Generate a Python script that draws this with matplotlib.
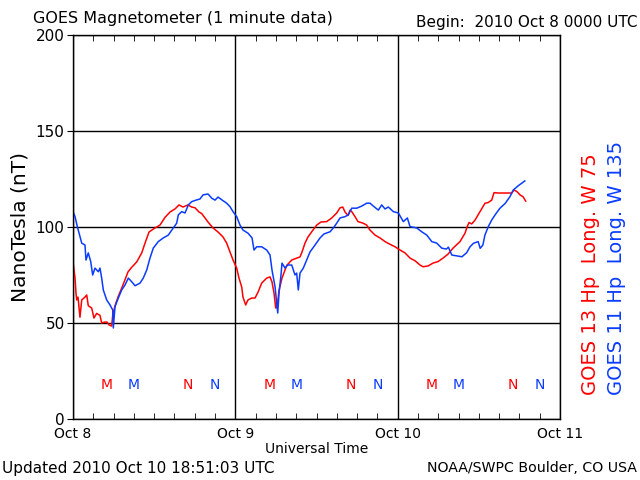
import numpy as np
import matplotlib
matplotlib.use("Agg")
import matplotlib.pyplot as plt

# hours since 2010 Oct 8 0000 UTC, field in nT
g13_hours = [0.0, 0.3, 0.44, 0.55, 0.74, 1.03, 1.29, 1.77, 2.03, 2.26, 2.76, 3.1, 3.5, 3.99,
             4.24, 4.73, 5.03, 5.32, 5.72, 5.87, 6.21, 6.65, 7.39, 8.13, 8.68, 9.42, 10.16,
             10.65, 11.24, 12.12, 12.86, 13.6, 14.34, 15.08, 15.67, 16.26, 17.0, 17.55, 18.04,
             18.63, 19.03, 19.96, 20.7, 21.44, 22.18, 22.72, 23.21, 23.66, 24.2, 24.54, 24.94,
             25.13, 25.53, 25.87, 26.42, 26.91, 27.35, 27.9, 28.64, 29.13, 29.42, 29.72, 29.97,
             30.16, 30.46, 30.9, 31.6, 32.34, 33.07, 33.56, 33.86, 34.3, 34.74, 35.48, 36.03,
             36.67, 37.51, 38.25, 38.99, 39.48, 39.88, 40.22, 40.66, 40.96, 41.21, 41.69, 42.14,
             42.88, 43.42, 43.91, 44.65, 45.39, 46.13, 46.87, 47.61, 48.35, 49.09, 49.83, 50.57,
             51.3, 51.75, 52.49, 53.23, 53.97, 54.71, 55.45, 56.19, 57.22, 57.96, 58.26, 58.55,
             58.95, 59.44, 60.17, 60.91, 61.36, 61.9, 62.25, 62.84, 63.58, 64.32, 64.86, 65.2,
             65.65, 66.09, 66.53, 66.93]
g13_nt = [81.8, 73.4, 65.6, 62, 63.5, 53, 62, 63.5, 64.6, 59, 57.8, 52.6, 55, 54,
          50, 50.5, 50.5, 49, 48.4, 54, 59, 63.5, 69.8, 76.6, 79, 81.8, 86.5,
          91.6, 97.4, 99.5, 101, 105, 107.8, 109.4, 111.5, 110.4, 111.5, 110.4, 110,
          107.8, 107, 102.6, 99.5, 97.4, 94.8, 91.6, 87, 82.8, 78.6, 73.4, 68.8,
          63.5, 59.4, 62, 63, 63, 66, 70.8, 73.4, 74, 71.4, 65.6, 57.8,
          58, 67, 73.4, 80, 82.8, 83.8, 84.4, 87, 91.6, 94.8, 98.4, 101,
          102.6, 102.8, 104.7, 107.3, 110, 110.4, 107.8, 106, 108.8, 108, 105.4, 102.8,
          102, 101, 98.4, 95.8, 94.3, 92.4, 91, 89.7, 88, 86.5, 83.8, 82.4,
          80.2, 79.3, 79.7, 81.2, 82, 83.8, 85.9, 89, 92.4, 96.8, 100, 102.3,
          101.6, 103.6, 108, 112.4, 112.7, 114, 117.9, 117.7, 117.7, 117.7, 117.7, 119.3,
          118.4, 116.7, 115.8, 113.5]

g11_hours = [0.0, 0.3, 0.64, 1.03, 1.29, 1.77, 1.92, 2.26, 2.62, 2.91, 3.25, 3.74, 3.99, 4.24,
             4.48, 4.98, 5.47, 5.87, 5.96, 6.21, 6.7, 7.2, 7.69, 8.18, 8.68, 9.17, 9.91, 10.39,
             10.9, 11.38, 11.87, 12.61, 13.35, 14.09, 14.83, 15.33, 15.57, 16.07, 16.56, 17.05,
             17.55, 18.19, 18.78, 19.22, 19.96, 20.51, 21.0, 21.44, 22.18, 22.72, 23.21, 23.66,
             24.2, 24.69, 25.13, 25.87, 26.47, 26.76, 27.16, 27.9, 28.64, 29.13, 29.42, 29.87,
             30.12, 30.27, 30.46, 30.75, 30.9, 31.35, 31.74, 32.34, 32.82, 33.07, 33.31, 33.56,
             34.05, 34.55, 35.04, 35.78, 36.52, 37.11, 38.0, 38.49, 38.99, 39.48, 40.22, 40.7,
             41.21, 41.95, 42.69, 43.42, 43.91, 44.4, 45.14, 45.64, 46.13, 46.62, 47.36, 48.1,
             48.84, 49.43, 49.83, 50.82, 51.56, 52.3, 53.04, 53.78, 54.51, 55.2, 55.5, 56.0,
             56.7, 57.5, 58.2, 58.7, 59.2, 59.9, 60.2, 60.6, 60.9, 61.4, 61.9, 62.4, 63.1,
             63.9, 64.6, 65.1, 65.8, 66.3, 66.8]
g11_nt = [108, 105.4, 100.2, 95, 91.6, 90.6, 82.8, 86.5, 82, 75, 78.6, 76.7, 78.6, 73.4,
          67.2, 62, 59.4, 56.8, 47.4, 58.5, 63, 67.2, 69.8, 73.4, 71.5, 69.4, 70.8, 73.4,
          77.6, 83.8, 89, 92.4, 94.3, 95.8, 99.5, 102, 106.3, 108, 107.3, 111.5,
          113.2, 114, 114.6, 116.7, 117.2, 115, 114, 115.6, 113.7, 112.4, 110.6, 108,
          105.4, 101, 98.4, 96.8, 94.3, 88, 89.7, 89.7, 88, 85.4, 77.6, 68.9,
          60.4, 55.2, 65.6, 75, 81.2, 78.6, 80.2, 80.2, 75, 76, 67.2, 76,
          78.6, 82.8, 87, 90.6, 94.3, 96.4, 97.5, 99.5, 102, 104.7, 105.4, 106.3,
          109.8, 109.8, 110.9, 112.4, 112.4, 110.9, 108.8, 111.5, 109.4, 110.4, 108, 107.3,
          102.8, 104.7, 100.2, 99.5, 97.5, 95.8, 92.4, 91.6, 89, 88.5, 89.5, 85.4,
          85, 84.5, 86.6, 89.7, 91.5, 92.4, 88.9, 90.6, 95.8, 100.2, 103.6, 106.3, 109.7,
          112.3, 115.8, 119.3, 121.4, 122.7, 124]

# local midnight (M) and noon (N) markers, hours UT within each day
g13_midnight, g13_noon = 5, 17
g11_midnight, g11_noon = 9, 21
days = [0, 24, 48]

day_ticks = [0, 24, 48, 72]
day_labels = ["Oct 8", "Oct 9", "Oct 10", "Oct 11"]
y_ticks = [0, 50, 100, 150, 200]

red = "#ff0000"
blue = "#0a3cff"

plt.rcParams["font.family"] = "DejaVu Sans"
fig = plt.figure(figsize=(6.4, 4.8), dpi=100)
ax = fig.add_axes([73 / 640, 61 / 480, 487 / 640, 384 / 480])

ax.plot(g13_hours, g13_nt, color=red, lw=1.1)
ax.plot(g11_hours, g11_nt, color=blue, lw=1.1)

for d in days:
    ax.text(d + g13_midnight, 17.5, "M", color=red, ha="center", va="center", fontsize=10)
    ax.text(d + g11_midnight, 17.5, "M", color=blue, ha="center", va="center", fontsize=10)
    ax.text(d + g13_noon, 17.5, "N", color=red, ha="center", va="center", fontsize=10)
    ax.text(d + g11_noon, 17.5, "N", color=blue, ha="center", va="center", fontsize=10)

ax.set_xlim(0, 72)
ax.set_ylim(0, 200)
ax.set_xticks(day_ticks)
ax.set_xticklabels(day_labels, fontsize=10)
ax.set_xticks(np.arange(0, 73, 3), minor=True)
ax.set_yticks(y_ticks)
ax.set_yticklabels([str(v) for v in y_ticks], fontsize=11)
ax.tick_params(axis="x", which="major", length=0, pad=6)
ax.tick_params(axis="x", which="minor", direction="in", length=4, top=True, bottom=True)
ax.tick_params(axis="y", which="major", direction="out", length=4, pad=2)
ax.grid(True, which="major", color="black", lw=1)
for s in ax.spines.values():
    s.set_linewidth(1)

ax.set_xlabel("Universal Time", fontsize=10)
ax.xaxis.set_label_coords(0.5, -(442 - 419) / 384)
ax.set_ylabel("NanoTesla (nT)", fontsize=14.5)
ax.yaxis.set_label_coords(-(73 - 30) / 487, 0.5)

fig.text(33 / 640, 1 - 18 / 480, "GOES Magnetometer (1 minute data)", fontsize=11.5,
         ha="left", va="center")
fig.text(637 / 640, 1 - 22 / 480, "Begin:  2010 Oct 8 0000 UTC", fontsize=11,
         ha="right", va="center")
fig.text(2 / 640, 1 - 468 / 480, "Updated 2010 Oct 10 18:51:03 UTC", fontsize=11,
         ha="left", va="center")
fig.text(637 / 640, 1 - 468 / 480, "NOAA/SWPC Boulder, CO USA", fontsize=10.2,
         ha="right", va="center")
fig.text(590 / 640, 1 - 395 / 480, "GOES 13 Hp  Long. W 75", color=red, fontsize=14,
         rotation=90, ha="center", va="bottom")
fig.text(617 / 640, 1 - 395 / 480, "GOES 11 Hp  Long. W 135", color=blue, fontsize=14,
         rotation=90, ha="center", va="bottom")

fig.savefig("out.png", dpi=100)
